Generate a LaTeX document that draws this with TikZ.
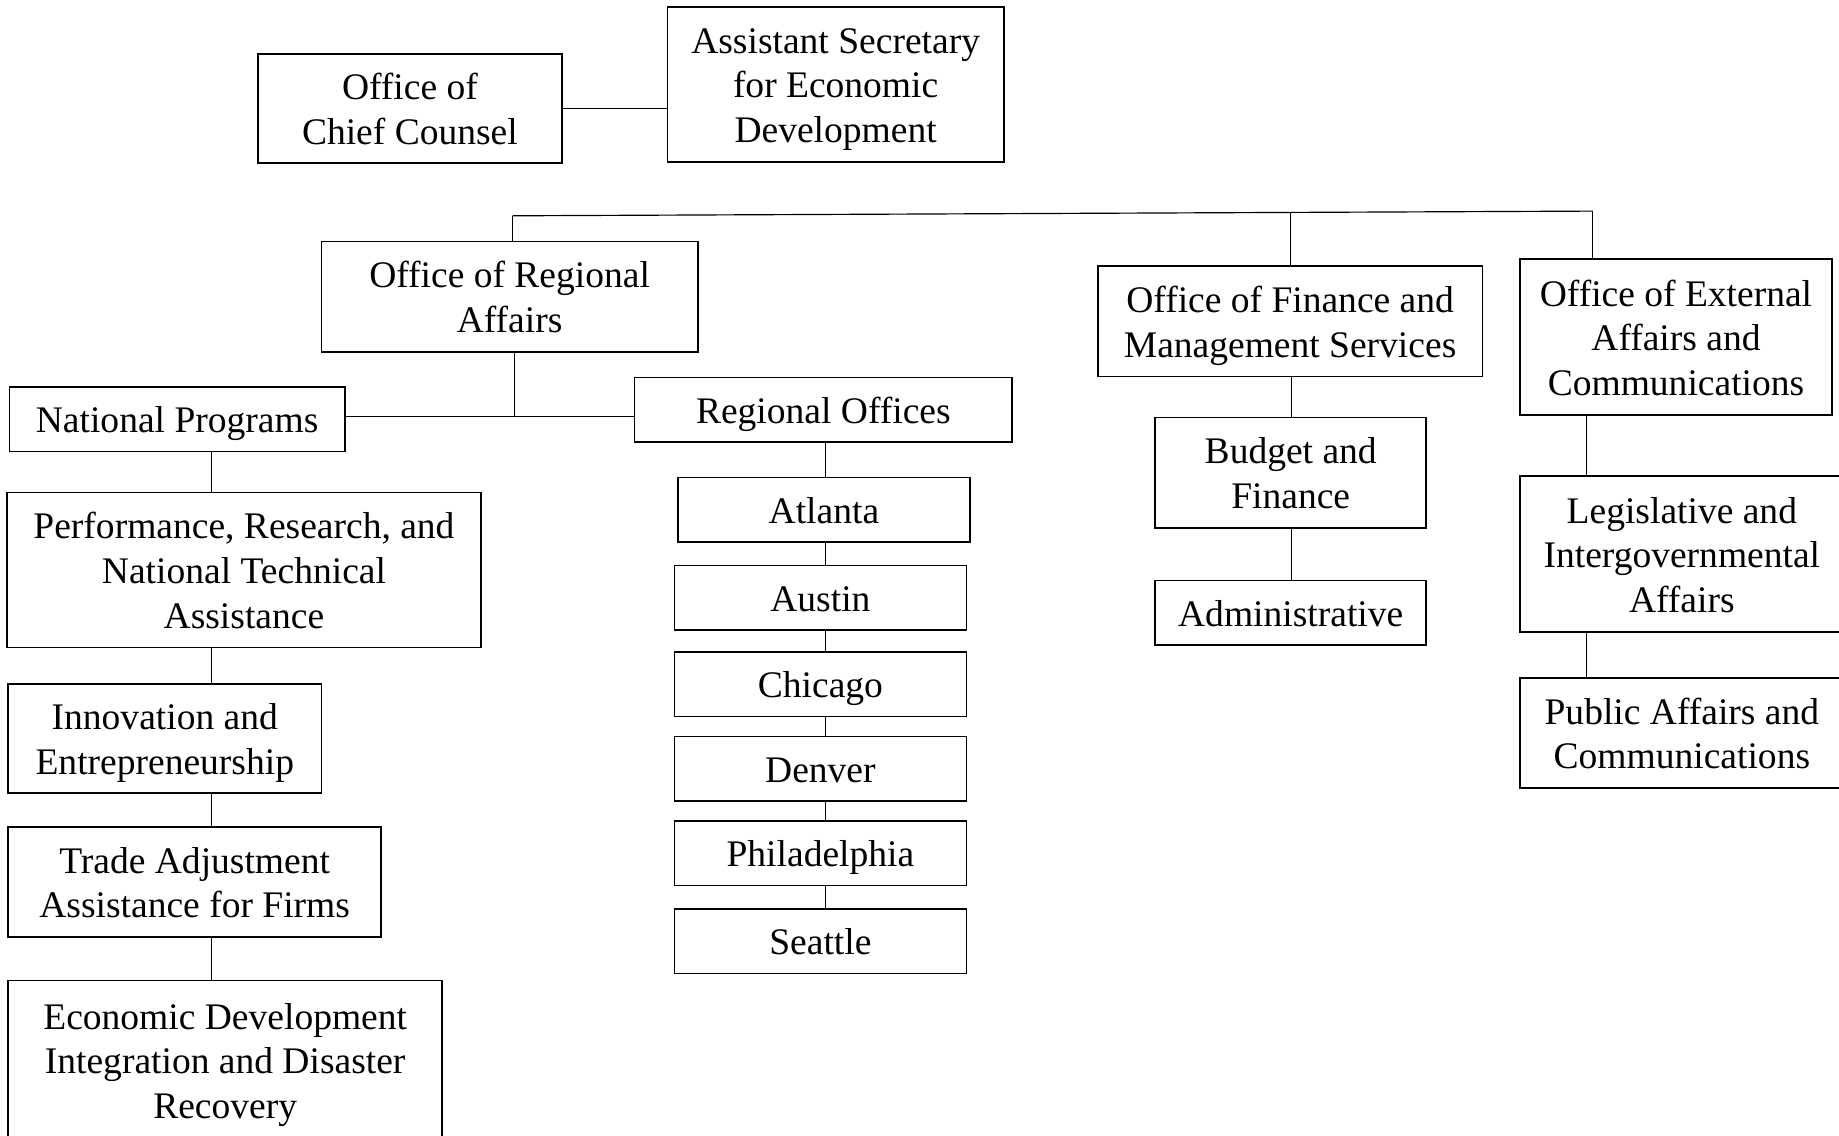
\documentclass[tikz,border=0pt]{standalone}
\usepackage{fontspec}
\setmainfont{Liberation Serif}
\usepackage{tikz}
\usetikzlibrary{positioning, calc}
\tikzset{
  orgbox/.style={rectangle, draw=black, fill=white, align=center,
    inner sep=0pt, line width=1.3pt, font=\fontsize{32}{38}\selectfont},
  oneline/.style={orgbox, text height=30pt, text depth=7pt},
  twoline/.style={orgbox, text height=68pt, text depth=7pt},
  threeline/.style={orgbox, text height=106pt, text depth=7pt},
  link/.style={line width=1pt, color=black}
}

\begin{document}
\begin{tikzpicture}[x=1pt, y=-1pt]
  \useasboundingbox (0,0) rectangle (1568,968);

  % Top level
  \node[twoline, minimum width=259pt, minimum height=93pt] (cc) at (349.5,92.5) {Office of\\Chief Counsel};
  \node[threeline, minimum width=287pt, minimum height=132pt] (asec) at (712.5,72) {Assistant Secretary\\for Economic\\Development};
  \draw[link] (cc.east) -- (cc.east -| asec.west);

  % Offices
  \node[twoline, minimum width=321pt, minimum height=94pt] (ora) at (434.5,253) {Office of Regional\\Affairs};
  \node[twoline, minimum width=328pt, minimum height=94pt] (ofm) at (1100,274) {Office of Finance and\\Management Services};
  \node[threeline, minimum width=266pt, minimum height=133pt] (oea) at (1429,287.5) {Office of External\\Affairs and\\Communications};
  \coordinate (busL) at (437,184);
  \coordinate (busM) at (1100,182);
  \coordinate (busR) at (1358,180);
  \draw[link] (busL) -- (busR);
  \draw[link] (busL) -- (busL |- ora.north);
  \draw[link] (busM) -- (ofm.north);
  \draw[link] (busR) -- (busR |- oea.north);

  % Regional Affairs
  \node[oneline, minimum width=286pt, minimum height=55pt] (np) at (151,357.5) {National Programs};
  \node[oneline, minimum width=322pt, minimum height=55pt] (ro) at (702,349.5) {Regional Offices};
  \coordinate (raj) at (439,355);
  \draw[link] (raj |- ora.south) -- (raj);
  \draw[link] (np.east |- raj) -- (ro.west |- raj);

  % National Programs column
  \node[threeline, minimum width=404pt, minimum height=132pt] (prn) at (208,486) {Performance, Research, and\\National Technical\\Assistance};
  \node[twoline, minimum width=267pt, minimum height=93pt] (ie) at (140.5,629.5) {Innovation and\\Entrepreneurship};
  \node[twoline, minimum width=318pt, minimum height=94pt] (taa) at (166,752) {Trade Adjustment\\Assistance for Firms};
  \node[threeline, minimum width=370pt, minimum height=136pt] (edr) at (192,904) {Economic Development\\Integration and Disaster\\Recovery};
  \coordinate (npx) at (180,0);
  \foreach \a/\b in {np/prn, prn/ie, ie/taa, taa/edr}
    \draw[link] (npx |- \a.south) -- (npx |- \b.north);

  % Regional Offices column
  \node[oneline, minimum width=249pt, minimum height=55pt] (atl) at (702.5,434.5) {Atlanta};
  \node[oneline, minimum width=249pt, minimum height=55pt] (aus) at (699.5,509.5) {Austin};
  \node[oneline, minimum width=249pt, minimum height=55pt] (chi) at (699.5,583.5) {Chicago};
  \node[oneline, minimum width=249pt, minimum height=55pt] (den) at (699.5,655.5) {Denver};
  \node[oneline, minimum width=249pt, minimum height=55pt] (phi) at (699.5,727.5) {Philadelphia};
  \node[oneline, minimum width=249pt, minimum height=55pt] (sea) at (699.5,802.5) {Seattle};
  \coordinate (rox) at (704,0);
  \foreach \a/\b in {ro/atl, atl/aus, aus/chi, chi/den, den/phi, phi/sea}
    \draw[link] (rox |- \a.south) -- (rox |- \b.north);

  % Finance column
  \node[twoline, minimum width=231pt, minimum height=94pt] (bf) at (1100.5,403) {Budget and\\Finance};
  \node[oneline, minimum width=231pt, minimum height=55pt] (adm) at (1100.5,522.5) {Administrative};
  \coordinate (fmx) at (1101,0);
  \foreach \a/\b in {ofm/bf, bf/adm}
    \draw[link] (fmx |- \a.south) -- (fmx |- \b.north);

  % External Affairs column
  \node[threeline, minimum width=276pt, minimum height=133pt] (lia) at (1434,472.5) {Legislative and\\Intergovernmental\\Affairs};
  \node[twoline, minimum width=276pt, minimum height=94pt] (pac) at (1434,625) {Public Affairs and\\Communications};
  \coordinate (eax) at (1353,0);
  \foreach \a/\b in {oea/lia, lia/pac}
    \draw[link] (eax |- \a.south) -- (eax |- \b.north);
\end{tikzpicture}
\end{document}
